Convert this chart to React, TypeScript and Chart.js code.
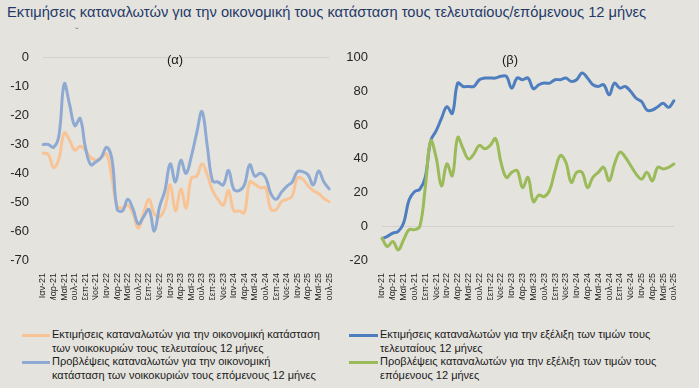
import React, { useEffect, useRef } from "react";
import { Chart, registerables } from "chart.js";

Chart.register(...registerables);

const MONTHS = ["Ιαν", "Φεβ", "Μαρ", "Απρ", "Μαϊ", "Ιουν", "Ιουλ", "Αυγ", "Σεπ", "Οκτ", "Νοε", "Δεκ"];
const YEARS = ["21", "22", "23", "24", "25"];
const N_MONTHS = 55; // Ιαν-21 .. Ιουλ-25
const CATEGORIES: string[] = [];
for (const y of YEARS) for (const m of MONTHS) if (CATEGORIES.length < N_MONTHS) CATEGORIES.push(`${m}-${y}`);

// (α) panel
const FIN_PAST = [
  -33, -33.4, -38, -35, -26, -28.5, -32, -30.6, -32, -34.5,
  -35.5, -34.5, -33.4, -41.6, -51.4, -52, -51, -54, -59, -53.6,
  -49, -54, -55, -52, -44, -53, -45.4, -52, -41.6, -41,
  -36.7, -40.5, -46, -49, -51, -46, -53, -53, -53.6, -43,
  -43.8, -45, -45, -52.5, -52.5, -49.8, -49, -48, -41.6, -42,
  -44.3, -46, -47, -48.7, -49.8,
];
const FIN_NEXT = [
  -30, -30, -31, -27, -9, -16, -23.5, -21, -31, -37,
  -36, -34.5, -31, -35, -52.5, -53, -49, -52.5, -57.5, -55,
  -52.5, -60, -51.5, -46, -36.7, -43, -35.5, -40, -34, -26,
  -18.6, -30.6, -42.7, -43, -44, -39, -45.5, -46, -44, -37,
  -41, -40, -41.5, -47, -49, -46.5, -44.5, -43, -39.4, -39.4,
  -40.5, -44, -39.2, -43, -45.4,
];
// (β) panel
const PRICE_PAST = [
  -7.4, -6, -4, -3, 2, 15.6, 20.5, 22, 29, 50.7,
  56.6, 64, 71, 67, 85, 83, 83, 83, 87, 88,
  88, 88, 89, 89, 82, 88, 87, 88, 81.6, 84,
  85, 85, 87, 87, 88, 86, 87, 91, 88, 84,
  83, 84, 78, 85, 82, 83, 80, 76, 74, 69,
  69, 71, 73, 70.6, 74.5,
];
const PRICE_NEXT = [
  -7, -12, -9, -14, -8, -2, -2, 0, 23, 50.7,
  41, 24, 37, 30, 52.7, 46, 40, 43, 48, 46,
  48, 52, 38, 29, 32, 33, 23, 29, 14.6, 18.5,
  17.6, 21.5, 33, 42, 38, 26, 32, 32, 23, 29,
  32, 35, 27, 37, 44, 41, 36, 31, 28, 32,
  27, 35, 34, 35, 37,
];

const TITLE = "Εκτιμήσεις καταναλωτών για την οικονομική τους κατάσταση τους τελευταίους/επόμενους 12 μήνες";
const LEFT_Y = { min: -70, max: 0, step: 10 };
const RIGHT_Y = { min: -20, max: 100, step: 20 };

const BG = "#E5E3DE";
const C_ORANGE = "#F8C495";
const C_LBLUE = "#8EAAD3";
const C_DBLUE = "#4F7EBF";
const C_GREEN = "#9BBB59";
const FONT = "'Liberation Sans', Arial, sans-serif";

type Panel = {
  datasets: any[];
  yr: { min: number; max: number; step: number };
  yWidth: number;
  pad: { top: number; right: number; left: number; bottom: number };
};

function PanelChart({ panel, style }: { panel: Panel; style: React.CSSProperties }) {
  const ref = useRef<HTMLCanvasElement | null>(null);
  useEffect(() => {
    if (!ref.current) return;
    const chart = new Chart(ref.current, {
      type: "line",
      data: { labels: CATEGORIES, datasets: panel.datasets },
      options: {
        animation: false,
        responsive: false,
        maintainAspectRatio: false,
        layout: { padding: panel.pad },
        plugins: { legend: { display: false }, tooltip: { enabled: false }, title: { display: false } },
        elements: { point: { radius: 0 }, line: { tension: 0.4, borderWidth: 3, borderCapStyle: "round", borderJoinStyle: "round" } },
        scales: {
          x: {
            grid: { display: false },
            border: { display: false },
            ticks: {
              autoSkip: false,
              maxRotation: 90,
              minRotation: 90,
              padding: 5,
              color: "#262626",
              font: { size: 9, family: FONT },
              callback: (_v: any, i: number) => (i % 2 === 0 ? CATEGORIES[i] : ""),
            },
            afterFit: (s: any) => {
              s.height = 40;
            },
          },
          y: {
            min: panel.yr.min,
            max: panel.yr.max,
            border: { display: false },
            grid: {
              drawTicks: false,
              color: (ctx: any) => (ctx.tick && ctx.tick.value === 0 ? "#D3D1CC" : "rgba(0,0,0,0)"),
              lineWidth: 1,
            },
            ticks: {
              stepSize: panel.yr.step,
              padding: 14,
              color: "#262626",
              font: { size: 13, family: FONT },
            },
            afterFit: (s: any) => {
              s.width = panel.yWidth;
            },
          },
        },
      } as any,
    });
    return () => chart.destroy();
  }, [panel]);
  return <canvas ref={ref} width={345} height={264} style={{ position: "absolute", width: 345, height: 264, ...style }} />;
}

const LEFT_PANEL: Panel = {
  datasets: [
    { data: FIN_NEXT, borderColor: C_LBLUE, backgroundColor: C_LBLUE, fill: false },
    { data: FIN_PAST, borderColor: C_ORANGE, backgroundColor: C_ORANGE, fill: false },
  ],
  yr: LEFT_Y,
  yWidth: 43,
  pad: { top: 10.7, right: 7, left: 0, bottom: 0 },
};
const RIGHT_PANEL: Panel = {
  datasets: [
    { data: PRICE_NEXT, borderColor: C_GREEN, backgroundColor: C_GREEN, fill: false },
    { data: PRICE_PAST, borderColor: C_DBLUE, backgroundColor: C_DBLUE, fill: false },
  ],
  yr: RIGHT_Y,
  yWidth: 37,
  pad: { top: 19, right: 16, left: 0, bottom: 0 },
};

const legendText: React.CSSProperties = {
  position: "absolute",
  fontFamily: FONT,
  fontSize: 11,
  lineHeight: "13.7px",
  color: "#1a1a1a",
  whiteSpace: "nowrap",
};
const sample = (color: string, left: number, top: number, w: number) => (
  <div style={{ position: "absolute", left, top: top - 1.5, width: w, height: 3, background: color }} />
);

export default function App() {
  return (
    <div style={{ position: "fixed", left: 0, top: 0, width: 699, height: 388, background: BG, overflow: "hidden" }}>
      <div style={{ position: "absolute", left: 7, top: 4, fontFamily: FONT, fontSize: 14.7, color: "#1F3A68", whiteSpace: "nowrap" }}>
        {TITLE}
      </div>
      <div style={{ position: "absolute", left: 75, top: 26, fontFamily: FONT, fontSize: 11, color: "#7f7f7f" }}>ˇ</div>
      <PanelChart panel={LEFT_PANEL} style={{ left: 0, top: 36 }} />
      <PanelChart panel={RIGHT_PANEL} style={{ left: 345, top: 36 }} />
      <div style={{ position: "absolute", left: 167, top: 52, fontFamily: FONT, fontSize: 13, color: "#1a1a1a" }}>(α)</div>
      <div style={{ position: "absolute", left: 502, top: 52, fontFamily: FONT, fontSize: 13, color: "#1a1a1a" }}>(β)</div>

      {sample(C_ORANGE, 22, 335, 28)}
      <div style={{ ...legendText, left: 52, top: 328 }}>
        Εκτιμήσεις καταναλωτών για την οικονομική κατάσταση
        <br />
        των νοικοκυριών τους τελευταίους 12 μήνες
      </div>
      {sample(C_LBLUE, 22, 362, 28)}
      <div style={{ ...legendText, left: 52, top: 355.4 }}>
        Προβλέψεις καταναλωτών για την οικονομική
        <br />
        κατάσταση των νοικοκυριών τους επόμενους 12 μήνες
      </div>
      {sample(C_DBLUE, 349, 335, 29)}
      <div style={{ ...legendText, left: 380, top: 328 }}>
        Εκτιμήσεις καταναλωτών για την εξέλιξη των τιμών τους
        <br />
        τελευταίους 12 μήνες
      </div>
      {sample(C_GREEN, 349, 362, 29)}
      <div style={{ ...legendText, left: 380, top: 355.4 }}>
        Προβλέψεις καταναλωτών για την εξέλιξη των τιμών τους
        <br />
        επόμενους 12 μήνες
      </div>
    </div>
  );
}
